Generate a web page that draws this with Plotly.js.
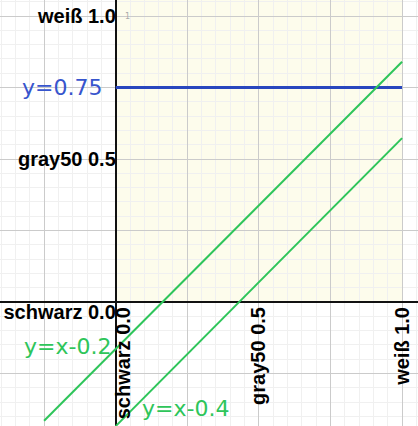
<!DOCTYPE html>
<html>
<head>
<meta charset="utf-8">
<script src="https://cdn.plot.ly/plotly-3.0.1.min.js"></script>
<style>html,body{margin:0;padding:0;background:#fff;}#chart{width:418px;height:426px;}</style>
</head>
<body>
<div id="chart"></div>
<script>
// Data
const tickVals = [-0.25, 0, 0.25, 0.5, 0.75, 1];
const tickText = ['', '', '', 'gray50 0.5', '', 'weiß 1.0'];
const originVals = [0];
const originText = ['schwarz 0.0'];

const hLineX = [0, 1];
const hLineY = [0.75, 0.75];

const line1X = [-0.25, 1.0];
const line1Y = [-0.415, 0.84];

const line2X = [0, 1.0];
const line2Y = [-0.434, 0.573];

const labels = ['y=0.75', 'y=x-0.2', 'y=x-0.4'];

const blue = 'rgb(40,70,190)';
const green = 'rgb(46,197,90)';

const xRange = [-0.404, 1.0555];
const yRange = [-0.4336, 1.056];

const traces = [
  {x: hLineX, y: hLineY, mode: 'lines', line: {color: blue, width: 3}, hoverinfo: 'skip'},
  {x: line1X, y: line1Y, mode: 'lines', line: {color: green, width: 2}, hoverinfo: 'skip'},
  {x: line2X, y: line2Y, mode: 'lines', line: {color: green, width: 2}, hoverinfo: 'skip'},
  {x: [], y: [], xaxis: 'x2', yaxis: 'y2', mode: 'lines', hoverinfo: 'skip'}
];

const tickFont = {family: 'Liberation Sans, Arial, sans-serif', size: 20, color: '#000', weight: 'bold'};
const annFont = (c) => ({family: 'DejaVu Sans, sans-serif', size: 22, color: c});

const layout = {
  width: 418, height: 426,
  margin: {l: 0, r: 0, t: 0, b: 0, pad: 0},
  paper_bgcolor: '#fff', plot_bgcolor: '#fff',
  showlegend: false,
  xaxis: {
    range: xRange, anchor: 'free', position: 0.291,
    tickmode: 'array', tickvals: tickVals, ticktext: tickText,
    tickangle: -90, tickfont: tickFont, ticks: '',
    showgrid: true, gridcolor: '#cbcbcb', gridwidth: 1,
    minor: {tickmode: 'linear', tick0: 0, dtick: 0.05, showgrid: true, gridcolor: '#f0f0f0', gridwidth: 1},
    zeroline: true, zerolinecolor: '#111', zerolinewidth: 2,
    showline: false, fixedrange: true
  },
  yaxis: {
    range: yRange, anchor: 'free', position: 0.277,
    tickmode: 'array', tickvals: tickVals, ticktext: tickText,
    tickfont: tickFont, ticks: '',
    showgrid: true, gridcolor: '#cbcbcb', gridwidth: 1,
    minor: {tickmode: 'linear', tick0: 0, dtick: 0.05, showgrid: true, gridcolor: '#f0f0f0', gridwidth: 1},
    zeroline: true, zerolinecolor: '#111', zerolinewidth: 2.5,
    showline: false, fixedrange: true
  },
  xaxis2: {
    range: xRange, overlaying: 'x', anchor: 'free', position: 0.291,
    tickmode: 'array', tickvals: originVals, ticktext: originText,
    tickangle: -90, tickfont: tickFont, ticks: '', ticklabelshift: 8,
    showgrid: false, zeroline: false, showline: false, fixedrange: true
  },
  yaxis2: {
    range: yRange, overlaying: 'y', anchor: 'free', position: 0.277,
    tickmode: 'array', tickvals: originVals, ticktext: originText,
    tickfont: tickFont, ticks: '', ticklabelshift: 10,
    showgrid: false, zeroline: false, showline: false, fixedrange: true
  },
  shapes: [
    {type: 'rect', xref: 'x', yref: 'paper', x0: 0, x1: 1, y0: 0.291, y1: 1,
     fillcolor: 'rgb(253,252,236)', line: {width: 0}, layer: 'below'}
  ],
  annotations: [
    {x: -0.041, y: 0.75, xref: 'x', yref: 'y', text: labels[0], showarrow: false,
     xanchor: 'right', yanchor: 'middle', font: annFont('rgb(55,85,205)')},
    {x: -0.327, y: -0.157, xref: 'x', yref: 'y', text: labels[1], showarrow: false,
     xanchor: 'left', yanchor: 'middle', font: annFont(green)},
    {x: 0.085, y: -0.371, xref: 'x', yref: 'y', text: labels[2], showarrow: false,
     xanchor: 'left', yanchor: 'middle', font: annFont(green)},
    {x: 0.04, y: 1.0, xref: 'x', yref: 'y', text: '1', showarrow: false,
     xanchor: 'center', yanchor: 'middle', font: {family: 'DejaVu Sans, sans-serif', size: 8, color: '#aaa'}}
  ]
};

Plotly.newPlot('chart', traces, layout, {staticPlot: true, displayModeBar: false});
</script>
</body>
</html>
